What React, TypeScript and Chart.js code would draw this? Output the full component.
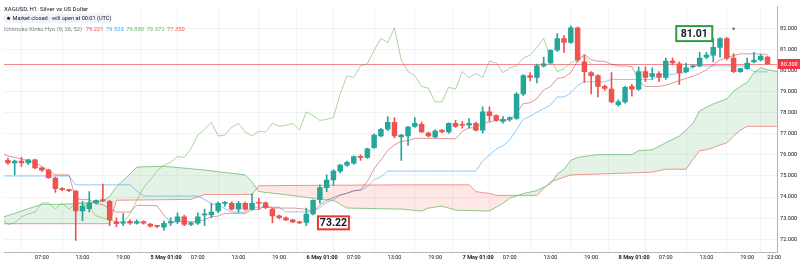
import React, { useEffect, useRef } from "react";
import { Chart, registerables } from "chart.js";

Chart.register(...registerables);

const FONT = "Roboto, 'Noto Sans', sans-serif";

// bar index 0 = 4 May 01:00, 23 hourly bars per session day (01:00-23:00)
const opens = [
  75.74, 75.74, 75.62, 75.70, 75.62, 75.76, 75.38, 75.28, 74.90, 74.40,
  74.35, 74.28, 73.34, 73.45, 73.72, 73.88, 73.80, 72.83, 72.76, 72.85,
  72.76, 72.84, 72.72, 72.64, 72.58, 72.78, 72.84, 73.06, 72.70, 72.76,
  73.16, 73.16, 73.34, 73.70, 73.71, 73.43, 73.71, 73.43, 73.74, 73.73,
  73.43, 73.11, 73.02, 72.92, 72.83, 72.80, 73.20, 73.89, 74.45, 74.81,
  75.23, 75.51, 75.60, 75.92, 75.88, 76.34, 76.89, 77.21, 77.54, 76.85,
  76.89, 77.35, 77.45, 77.03, 76.85, 77.17, 77.08, 77.49, 77.42, 77.40,
  77.49, 77.17, 78.04, 77.86, 77.58, 77.68, 77.72, 78.88, 79.75, 79.66,
  80.21, 80.35, 80.95, 81.51, 81.32, 82.01, 80.40, 79.89, 79.75, 79.24,
  79.11, 78.37, 78.51, 79.24, 79.11, 79.94, 79.71, 79.85, 79.66, 80.44,
  80.31, 79.94, 80.17, 80.21, 80.63, 80.72, 81.09, 81.51, 80.58, 79.94,
  80.08, 80.40, 80.49, 80.63,
];
const highs = [
  75.80, 75.85, 75.75, 75.88, 75.80, 75.80, 75.42, 75.32, 74.95, 74.45,
  74.38, 74.32, 73.80, 74.26, 73.87, 74.62, 73.85, 73.02, 73.22, 72.92,
  72.92, 72.88, 72.76, 72.66, 72.88, 73.02, 73.25, 73.15, 72.80, 73.25,
  73.43, 73.71, 73.78, 73.80, 73.78, 73.80, 73.76, 74.17, 73.94, 73.78,
  73.48, 73.15, 73.06, 72.95, 72.86, 73.48, 73.87, 74.58, 75.05, 75.30,
  75.55, 75.70, 75.95, 76.00, 76.32, 77.00, 77.25, 77.81, 77.77, 76.97,
  77.35, 77.77, 77.55, 77.08, 77.20, 77.20, 77.52, 77.63, 77.58, 77.72,
  77.55, 78.27, 78.27, 77.90, 77.81, 77.80, 78.95, 79.80, 79.90, 80.30,
  80.63, 80.98, 81.74, 81.65, 82.11, 82.05, 80.72, 79.94, 79.80, 79.30,
  79.89, 78.60, 79.24, 79.34, 80.17, 80.17, 80.12, 79.94, 80.58, 80.58,
  80.40, 80.35, 80.26, 80.85, 80.85, 81.51, 81.55, 81.55, 80.80, 80.10,
  80.58, 80.85, 80.75, 80.68,
];
const lows = [
  75.62, 75.55, 75.05, 75.45, 75.55, 75.35, 75.22, 74.88, 74.22, 74.30,
  74.26, 71.95, 72.88, 73.30, 73.68, 73.78, 72.65, 72.60, 72.65, 72.70,
  72.72, 72.72, 72.58, 72.55, 72.42, 72.65, 72.74, 72.65, 72.65, 72.70,
  72.65, 73.02, 73.25, 73.57, 73.38, 73.29, 73.38, 73.38, 73.43, 73.45,
  72.78, 72.97, 72.88, 72.79, 72.74, 72.65, 73.15, 73.70, 74.26, 74.58,
  75.15, 75.45, 75.55, 75.74, 75.83, 76.30, 76.85, 77.15, 76.80, 75.74,
  76.45, 77.30, 77.05, 76.85, 76.80, 77.05, 77.02, 77.30, 77.26, 77.26,
  77.12, 77.03, 77.58, 77.58, 77.50, 77.60, 77.68, 78.80, 79.50, 79.40,
  80.15, 80.30, 80.90, 80.85, 81.28, 80.40, 79.43, 78.88, 78.74, 79.05,
  78.46, 78.30, 78.45, 78.78, 79.05, 79.47, 79.57, 79.47, 79.57, 80.26,
  79.34, 79.89, 80.12, 80.17, 80.55, 80.40, 80.63, 80.49, 79.89, 79.90,
  80.05, 80.35, 80.45, 80.28,
];
const closes = [
  75.65, 75.62, 75.70, 75.62, 75.76, 75.38, 75.28, 74.92, 74.40, 74.35,
  74.30, 73.34, 73.57, 73.72, 73.85, 73.82, 72.92, 72.74, 72.83, 72.76,
  72.84, 72.76, 72.62, 72.61, 72.76, 72.84, 73.06, 72.70, 72.78, 73.06,
  73.20, 73.29, 73.71, 73.73, 73.43, 73.71, 73.43, 73.71, 73.71, 73.50,
  73.11, 73.02, 72.92, 72.83, 72.78, 73.20, 73.85, 74.45, 74.81, 75.23,
  75.51, 75.65, 75.92, 75.88, 76.29, 76.94, 77.21, 77.54, 76.89, 76.94,
  77.31, 77.49, 77.08, 76.89, 77.12, 77.08, 77.49, 77.35, 77.40, 77.49,
  77.17, 78.04, 77.86, 77.63, 77.68, 77.77, 78.88, 79.75, 79.66, 80.21,
  80.31, 80.95, 81.51, 81.32, 82.01, 80.49, 79.94, 79.75, 79.24, 79.15,
  78.51, 78.51, 79.20, 79.11, 79.94, 79.66, 79.85, 79.66, 80.44, 80.35,
  79.89, 80.12, 80.21, 80.58, 80.72, 81.09, 81.51, 80.58, 79.94, 80.08,
  80.35, 80.49, 80.68, 80.31,
];

// Ichimoku lines
const tenkan = [
  76.08, 75.95, 75.88, 75.80, 75.72, 75.65, 75.45, 75.25, 75.05, 75.05,
  75.05, 73.92, 73.88, 73.88, 73.69, 73.64, 73.45, 73.29, 73.29, 73.29,
  73.61, 73.61, 73.60, 73.59, 73.14, 72.82, 72.84, 72.84, 72.84, 72.84,
  72.93, 73.07, 73.10, 73.23, 73.23, 73.23, 73.23, 73.41, 73.41, 73.60,
  73.48, 73.48, 73.48, 73.48, 73.46, 73.41, 73.30, 73.62, 73.85, 73.98,
  74.10, 74.18, 74.30, 74.33, 74.74, 75.35, 75.76, 76.20, 76.48, 76.63,
  76.68, 76.78, 76.78, 76.78, 76.78, 76.78, 76.76, 76.76, 77.11, 77.29,
  77.26, 77.54, 77.54, 77.65, 77.65, 77.65, 77.99, 78.42, 78.47, 78.67,
  79.07, 79.24, 79.62, 79.67, 79.90, 80.46, 80.76, 80.50, 80.43, 80.43,
  80.29, 80.21, 80.21, 80.18, 79.51, 79.24, 79.24, 79.24, 79.30, 79.40,
  79.52, 79.62, 79.72, 79.85, 80.03, 80.26, 80.49, 80.60, 80.70, 80.78,
  80.78, 80.78, 80.78, 80.75,
];
const kijun = [
  75.00, 75.00, 75.00, 75.00, 75.00, 75.00, 75.00, 75.00, 75.00, 75.00,
  75.00, 74.58, 74.58, 74.58, 74.58, 74.58, 74.58, 74.58, 74.58, 74.58,
  74.30, 74.05, 74.05, 74.05, 74.05, 74.05, 74.05, 74.05, 74.05, 74.05,
  73.88, 73.69, 73.64, 73.45, 73.29, 73.29, 73.29, 73.52, 73.52, 73.52,
  73.52, 73.52, 73.30, 73.30, 73.30, 73.30, 73.30, 73.50, 73.74, 73.86,
  74.10, 74.18, 74.30, 74.33, 74.49, 74.83, 74.95, 75.23, 75.23, 75.23,
  75.23, 75.23, 75.23, 75.23, 75.23, 75.23, 75.23, 75.23, 75.23, 75.23,
  75.23, 75.71, 75.99, 76.27, 76.43, 76.71, 77.20, 77.68, 77.82, 78.02,
  78.19, 78.36, 78.74, 78.74, 78.93, 79.28, 79.46, 79.46, 79.46, 79.46,
  79.57, 79.57, 79.57, 79.57, 79.57, 79.57, 79.57, 79.81, 79.81, 79.81,
  79.86, 79.90, 80.21, 80.21, 80.21, 80.21, 80.21, 80.21, 80.21, 80.21,
  80.18, 79.93, 79.93, 79.93,
];
// leading spans: [bar, price] vertices
const spanA = [
  [0, 73.02], [3, 73.34], [6, 73.66], [9, 73.66], [12, 73.71], [15, 73.8], [16, 74.03],
  [17, 74.49], [19, 75.09], [20, 75.42], [24, 75.46], [30, 75.28], [36, 75.05], [37, 74.72],
  [38, 74.26], [44, 74.03], [47, 73.89], [49, 73.85], [51, 73.48], [59, 73.43], [62, 73.34],
  [63, 73.48], [65, 73.57], [66, 73.48], [67, 73.38], [72, 73.34], [74, 73.71], [75, 73.94],
  [77, 74.17], [79, 74.31], [81, 74.63], [82, 75.09], [83, 75.32], [84, 75.74], [85, 75.88],
  [87, 75.97], [88, 76.01], [93, 76.01], [94, 76.2], [96, 76.24], [98, 76.57], [100, 76.89],
  [101, 77.17], [102, 77.49], [103, 78.09], [105, 78.41], [107, 78.65], [108, 79.01],
  [109, 79.24], [110, 79.43], [111, 79.89], [112, 80.12], [113, 80.03], [115, 79.9],
];
const spanB = [
  [0, 72.74], [16, 72.74], [17, 73.85], [28, 73.89], [30, 74.12], [37, 74.12], [38, 74.54],
  [59, 74.58], [69, 74.58], [70, 74.26], [72, 74.17], [73, 74.08], [79, 74.08], [81, 74.72],
  [84, 75.05], [88, 75.09], [96, 75.18], [98, 75.32], [101, 75.32], [102, 75.78], [103, 76.2],
  [104, 76.24], [107, 76.57], [108, 76.89], [109, 77.17], [110, 77.35], [115, 77.35],
];
const LAG = 26;

const tickBars = [6, 12, 18, 23, 29, 35, 41, 46, 52, 58, 64, 69, 75, 81, 87, 92, 98, 104, 110, 114];
const tickLabels = [
  "07:00", "13:00", "19:00", "5 May 01:00", "07:00", "13:00", "19:00", "6 May 01:00",
  "07:00", "13:00", "19:00", "7 May 01:00", "07:00", "13:00", "19:00", "8 May 01:00",
  "07:00", "13:00", "19:00", "23:00",
];
const priceTicks = [72, 73, 74, 75, 76, 77, 78, 79, 80, 81, 82];

const lastPrice = 80.3;
const lastPriceText = "80.300";
const lowNote = { bar: 49, price: 72.78, text: "73.22" };
const highNote = { bar: 102.2, price: 81.74, text: "81.01" };
const marker = { bar: 108, price: 81.97 };
const legendValues = ["79.221", "79.523", "79.830", "79.372", "77.350"];
const legendColors = ["#ef5350", "#42a5f5", "#66bb6a", "#66bb6a", "#ef5350"];

const UP = "#26a69a";
const DOWN = "#ef5350";

export default function App() {
  const ref = useRef<HTMLCanvasElement>(null);

  useEffect(() => {
    document.body.style.margin = "0";
    const canvas = ref.current;
    if (!canvas) return;

    const colors = closes.map((c, i) => (c >= opens[i] ? UP : DOWN));
    const bodies = opens.map((o, i) => ({ x: i, y: [o, closes[i]] }));
    const wicks = highs.map((h, i) => ({ x: i, y: [lows[i], h] }));
    const chikou = closes.slice(LAG).map((v, i) => ({ x: i, y: v }));

    const overlay = {
      id: "overlay",
      beforeDatasetsDraw(chart: any) {
        const { ctx, chartArea, scales } = chart;
        const py = Math.round(scales.y.getPixelForValue(lastPrice)) + 0.5;
        ctx.save();
        ctx.strokeStyle = "rgba(242,54,69,0.6)";
        ctx.lineWidth = 1;
        ctx.beginPath();
        ctx.moveTo(chartArea.left, py);
        ctx.lineTo(chartArea.right, py);
        ctx.stroke();
        ctx.restore();
      },
      afterDraw(chart: any) {
        const { ctx, chartArea, scales } = chart;
        const xs = scales.x;
        const ys = scales.y;
        ctx.save();
        // time axis labels
        ctx.textBaseline = "middle";
        tickBars.forEach((b, i) => {
          const label = tickLabels[i];
          const isDate = label.indexOf("May") >= 0;
          ctx.font = `${isDate ? "bold " : ""}5.6px ${FONT}`;
          ctx.fillStyle = "#131722";
          ctx.textAlign = "center";
          const px = xs.getPixelForValue(b) + (isDate ? 9 : 0);
          ctx.fillText(label, px, 257.5);
        });

        // last price label
        const py = Math.round(ys.getPixelForValue(lastPrice));
        ctx.fillStyle = "#f23645";
        ctx.fillRect(chartArea.right + 1, py - 5, 22, 10);
        ctx.fillStyle = "#ffffff";
        ctx.font = `5.6px ${FONT}`;
        ctx.textAlign = "left";
        ctx.fillText(lastPriceText, chartArea.right + 3.5, py + 0.5);

        // legend
        ctx.textAlign = "left";
        ctx.fillStyle = "#131722";
        ctx.font = `6px ${FONT}`;
        ctx.fillText("XAGUSD, H1: Silver vs US Dollar", 4, 9);
        ctx.fillStyle = "#f0f3fa";
        ctx.beginPath();
        (ctx as any).roundRect(3, 13.5, 109, 9.5, 4.75);
        ctx.fill();
        ctx.fillStyle = "#131722";
        ctx.beginPath();
        ctx.arc(8.5, 18.25, 1.5, 0, Math.PI * 2);
        ctx.fill();
        ctx.font = `5.6px ${FONT}`;
        ctx.fillText("Market closed \u00b7 will open at 00:01 (UTC)", 12.5, 18.5);
        ctx.fillStyle = "#787b86";
        ctx.font = `5.8px ${FONT}`;
        const name = "Ichimoku Kinko Hyo (9, 26, 52)";
        ctx.fillText(name, 4, 30);
        let lx = 4 + ctx.measureText(name).width + 3.5;
        legendValues.forEach((v, i) => {
          ctx.fillStyle = legendColors[i];
          ctx.fillText(v, lx, 30);
          lx += ctx.measureText(v).width + 2.5;
        });

        // notes
        const drawNote = (n: any, color: string, w: number, h: number) => {
          const cx = xs.getPixelForValue(n.bar);
          const cy = ys.getPixelForValue(n.price);
          ctx.fillStyle = "#ffffff";
          ctx.fillRect(cx - w / 2, cy - h / 2, w, h);
          ctx.strokeStyle = color;
          ctx.lineWidth = 2;
          ctx.strokeRect(cx - w / 2, cy - h / 2, w, h);
          ctx.fillStyle = "#131722";
          ctx.font = `bold 10.5px ${FONT}`;
          ctx.textAlign = "center";
          ctx.textBaseline = "middle";
          ctx.fillText(n.text, cx, cy + 0.5);
        };
        drawNote(lowNote, "#e53935", 31, 13);
        drawNote(highNote, "#2e9e41", 36, 15);
        ctx.restore();
      },
    };

    const chart = new Chart(canvas, {
      type: "bar",
      data: {
        datasets: [
          {
            type: "bar",
            data: bodies as any,
            backgroundColor: colors,
            barThickness: 4.8,
            minBarLength: 1,
            grouped: false,
            borderWidth: 0,
            order: 0,
          } as any,
          {
            type: "bar",
            data: wicks as any,
            backgroundColor: colors,
            barThickness: 1,
            grouped: false,
            borderWidth: 0,
            order: 1,
          } as any,
          {
            type: "line",
            data: [{ x: marker.bar, y: marker.price }],
            showLine: false,
            pointStyle: "rect",
            pointRadius: 1.7,
            pointBackgroundColor: "#43a047",
            pointBorderWidth: 0,
            order: 0,
          } as any,
          {
            type: "line",
            data: chikou,
            borderColor: "rgba(104,178,80,0.55)",
            borderWidth: 1,
            pointRadius: 0,
            order: 2,
          } as any,
          {
            type: "line",
            data: tenkan.map((v, i) => ({ x: i, y: v })),
            borderColor: "rgba(183,28,28,0.45)",
            borderWidth: 1,
            pointRadius: 0,
            order: 2,
          } as any,
          {
            type: "line",
            data: kijun.map((v, i) => ({ x: i, y: v })),
            borderColor: "rgba(66,165,245,0.6)",
            borderWidth: 1,
            pointRadius: 0,
            order: 2,
          } as any,
          {
            type: "line",
            data: spanA.map(([b, v]) => ({ x: b, y: v })),
            borderColor: "rgba(102,187,106,0.75)",
            borderWidth: 1,
            pointRadius: 0,
            fill: { target: "+1", above: "rgba(76,175,80,0.15)", below: "rgba(244,67,54,0.13)" },
            order: 3,
          } as any,
          {
            type: "line",
            data: spanB.map(([b, v]) => ({ x: b, y: v })),
            borderColor: "rgba(239,83,80,0.6)",
            borderWidth: 1,
            pointRadius: 0,
            order: 3,
          } as any,
        ],
      },
      options: {
        animation: false,
        responsive: false,
        events: [],
        layout: { padding: 0 },
        plugins: {
          legend: { display: false },
          tooltip: { enabled: false },
        },
        scales: {
          x: {
            type: "linear",
            min: 0.425,
            max: 114.4,
            offset: false,
            grid: { color: "rgba(42,46,57,0.06)", drawTicks: false },
            border: { color: "#b2b5be" },
            ticks: { display: false },
            afterBuildTicks: (s: any) => {
              s.ticks = tickBars.map((v) => ({ value: v }));
            },
            afterFit: (s: any) => {
              s.height = 10;
            },
          },
          y: {
            type: "linear",
            position: "right",
            min: 71.4,
            max: 83.03,
            grid: { color: "rgba(42,46,57,0.06)", drawTicks: false },
            border: { color: "#b2b5be" },
            ticks: {
              font: { family: FONT, size: 5.6 },
              color: "#131722",
              padding: 3,
              callback: (v: any) => Number(v).toFixed(3),
            },
            afterBuildTicks: (s: any) => {
              s.ticks = priceTicks.map((v) => ({ value: v }));
            },
            afterFit: (s: any) => {
              s.width = 23;
            },
          },
        },
      } as any,
      plugins: [overlay],
    });
    return () => chart.destroy();
  }, []);

  return (
    <div style={{ width: 800, height: 262, position: "relative" }}>
      <canvas ref={ref} width={800} height={262} style={{ display: "block", width: 800, height: 262 }} />
    </div>
  );
}
